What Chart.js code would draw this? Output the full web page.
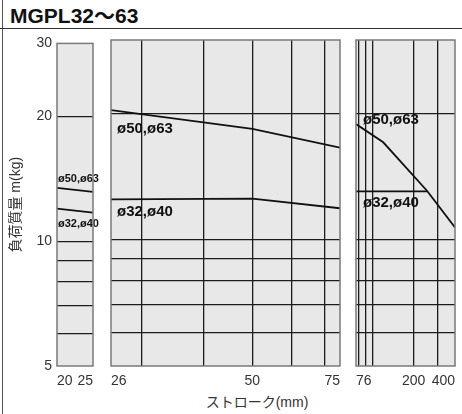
<!DOCTYPE html>
<html>
<head>
<meta charset="utf-8">
<script src="https://cdn.jsdelivr.net/npm/chart.js@4"></script>
<style>
  body { margin: 0; background: #fff; }
  #wrap { position: relative; width: 462px; height: 414px; overflow: hidden; font-family: "Liberation Sans", Arial, "Noto Sans CJK JP", sans-serif; color: #222; }
  #title { position: absolute; left: 10px; top: 4px; font-weight: bold; font-size: 21px; line-height: 24px; color: #111; }
  #rule { position: absolute; left: 0; top: 28px; width: 462px; border-top: 1.5px solid #333; }
  #frame { position: absolute; left: 2px; top: 0; height: 414px; border-left: 1px solid #555; }
  #xtitle { position: absolute; left: 157px; width: 200px; top: 394px; font-size: 14px; line-height: 16px; text-align: center; color: #333; }
  canvas { position: absolute; top: 30px; }
</style>
</head>
<body>
<div id="wrap">
  <div id="frame"></div>
  <div id="title">MGPL32～63</div>
  <div id="rule"></div>
  <canvas id="p1" width="100" height="362" style="left:0px"></canvas>
  <canvas id="p2" width="243" height="362" style="left:104px"></canvas>
  <canvas id="p3" width="113" height="362" style="left:349px"></canvas>
  <div id="xtitle">ストローク(mm)</div>
</div>
<script>
// load mass (kg), log axis
const yTicks = [5, 6, 7, 8, 9, 10, 20, 30];
const yLabels = [5, 10, 20, 30];

// panel 1: stroke 20-25
const stroke1 = [20, 25];
const big1 = [13.45, 13.15];
const small1 = [11.98, 11.72];
const xTicks1 = [20, 25];
const xLabels1 = [20, 25];

// panel 2: stroke 26-75
const stroke2 = [26, 50, 75];
const big2 = [20.4, 18.4, 16.6];
const small2 = [12.5, 12.55, 11.9];
const xTicks2 = [26, 30, 40, 50, 60, 70, 75];
const xLabels2 = [26, 50, 75];

// panel 3: stroke 76-400
const strokeBig3 = [76, 120, 250, 400];
const big3 = [18.9, 17.1, 13.1, 10.7];
const strokeSmall3 = [76, 250];
const small3 = [13.05, 13.05];
const xTicks3 = [76, 80, 90, 100, 200, 300, 400];
const xLabels3 = [76, 200, 400];

const sizeNames = ['ø50,ø63', 'ø32,ø40'];
const labelLoads1 = [14.1, 11.0];
const labelLoads2 = [18.4, 11.65];
const labelLoads3 = [19.3, 12.25];

const FONT = '"Liberation Sans", Arial, "Noto Sans CJK JP", sans-serif';
const gridColor = '#1c1c1c';

function panelPlugin(p) {
  return {
    id: 'panel',
    beforeDraw(chart) {
      const a = chart.chartArea, c = chart.ctx;
      c.save();
      c.fillStyle = '#e8e8e8';
      c.fillRect(a.left, a.top, a.right - a.left, a.bottom - a.top);
      c.restore();
    },
    afterDraw(chart) {
      const a = chart.chartArea, c = chart.ctx;
      c.save();
      c.font = 'bold ' + p.labelSize + 'px ' + FONT;
      c.fillStyle = '#111';
      c.textAlign = 'left';
      c.textBaseline = 'middle';
      sizeNames.forEach((t, i) => {
        c.fillText(t, a.left + p.labelPad, chart.scales.y.getPixelForValue(p.labelLoads[i]));
      });
      c.strokeStyle = '#7a7a7a';
      c.lineWidth = 1.5;
      c.strokeRect(a.left, a.top, a.right - a.left, a.bottom - a.top);
      c.restore();
    }
  };
}

function line(xs, ys) {
  return {
    data: xs.map((v, i) => ({ x: v, y: ys[i] })),
    borderColor: '#111',
    borderWidth: 1.8,
    pointRadius: 0,
    fill: false,
    tension: 0
  };
}

function makeChart(id, p) {
  const xEdge = [p.xTicks[0], p.xTicks[p.xTicks.length - 1]];
  return new Chart(document.getElementById(id), {
    type: 'line',
    data: { datasets: p.series },
    options: {
      responsive: false,
      animation: false,
      layout: { padding: p.padding },
      plugins: { legend: { display: false }, tooltip: { enabled: false } },
      scales: {
        x: {
          type: p.xType,
          min: xEdge[0],
          max: xEdge[1],
          afterBuildTicks: s => { s.ticks = p.xTicks.map(v => ({ value: v })); },
          afterFit: s => { s.height = 26; },
          ticks: {
            autoSkip: false, maxRotation: 0, align: 'inner', padding: 7,
            color: '#333', font: { size: 14, family: FONT },
            callback: v => p.xLabels.includes(v) ? String(v) : ''
          },
          grid: {
            display: p.xGrid, drawTicks: false, lineWidth: 1.3,
            color: c => xEdge.includes(c.tick && c.tick.value) ? 'rgba(0,0,0,0)' : gridColor
          },
          border: { display: false }
        },
        y: {
          type: 'logarithmic',
          min: 5,
          max: 30,
          afterBuildTicks: s => { s.ticks = yTicks.map(v => ({ value: v })); },
          afterFit: s => { s.width = p.yWidth; },
          ticks: {
            display: p.yLabels, autoSkip: false, padding: 5,
            color: '#333', font: { size: 14, family: FONT },
            callback: v => yLabels.includes(v) ? String(v) : ''
          },
          grid: {
            drawTicks: false, lineWidth: 1.3,
            color: c => (c.tick && (c.tick.value === 5 || c.tick.value === 30)) ? 'rgba(0,0,0,0)' : gridColor
          },
          border: { display: false },
          title: {
            display: p.yLabels, text: '負荷質量 m(kg)', color: '#333',
            font: { size: 14, family: FONT }, padding: { top: 8, bottom: 0 }
          }
        }
      }
    },
    plugins: [panelPlugin(p)]
  });
}

makeChart('p1', {
  xType: 'linear', xTicks: xTicks1, xLabels: xLabels1, xGrid: false,
  yWidth: 57, yLabels: true,
  padding: { top: 10, left: 0, right: 1, bottom: 0 },
  series: [line(stroke1, big1), line(stroke1, small1)],
  labelLoads: labelLoads1, labelSize: 11, labelPad: 1
});

makeChart('p2', {
  xType: 'logarithmic', xTicks: xTicks2, xLabels: xLabels2, xGrid: true,
  yWidth: 0, yLabels: false,
  padding: { top: 10, left: 5, right: 4, bottom: 0 },
  series: [line(stroke2, big2), line(stroke2, small2)],
  labelLoads: labelLoads2, labelSize: 15, labelPad: 6
});

makeChart('p3', {
  xType: 'logarithmic', xTicks: xTicks3, xLabels: xLabels3, xGrid: true,
  yWidth: 0, yLabels: false,
  padding: { top: 10, left: 5, right: 5, bottom: 0 },
  series: [line(strokeBig3, big3), line(strokeSmall3, small3)],
  labelLoads: labelLoads3, labelSize: 15, labelPad: 7
});
</script>
</body>
</html>
